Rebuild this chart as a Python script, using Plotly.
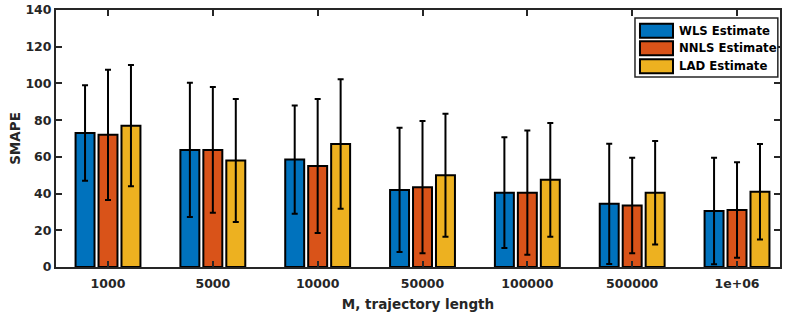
import plotly.graph_objects as go

categories = ["1000", "5000", "10000", "50000", "100000", "500000", "1e+06"]
series_names = ["WLS Estimate", "NNLS Estimate", "LAD Estimate"]
wls = [73, 63.8, 58.5, 42, 40.5, 34.4, 30.5]
wls_err = [26, 36.6, 29.5, 33.8, 30.2, 32.7, 29]
nnls = [72, 63.8, 55, 43.5, 40.5, 33.5, 31]
nnls_err = [35.5, 34.3, 36.5, 36, 33.8, 26, 26]
lad = [77, 58, 67, 50, 47.5, 40.5, 41]
lad_err = [33, 33.5, 35.3, 33.5, 31, 28.2, 26]
colors = ["#0072BD", "#D95319", "#EDB120"]
yticks = [0, 20, 40, 60, 80, 100, 120, 140]

values = [wls, nnls, lad]
errors = [wls_err, nnls_err, lad_err]
xpos = list(range(len(categories)))

FONT = "DejaVu Sans"
DARK = "#262626"

fig = go.Figure()
for name, v, e, c in zip(series_names, values, errors, colors):
    fig.add_trace(go.Bar(
        x=xpos, y=v, name=name, marker_color=c,
        marker_line=dict(color="black", width=2),
        error_y=dict(type="data", array=e, visible=True, color="black",
                     thickness=2, width=3),
        showlegend=False,
    ))

# custom legend (MATLAB-style wide swatches)
fig.add_shape(type="rect", xref="paper", yref="paper", x0=0.7997, x1=0.997,
              y0=0.739, y1=0.969, line=dict(color=DARK, width=1.5),
              fillcolor="white", layer="above")
row_y = [0.9195, 0.851, 0.781]
for name, c, ry in zip(series_names, colors, row_y):
    fig.add_shape(type="rect", xref="paper", yref="paper", x0=0.8066, x1=0.8522,
                  y0=ry - 0.027, y1=ry + 0.027, line=dict(color="black", width=2),
                  fillcolor=c, layer="above")
    fig.add_annotation(xref="paper", yref="paper", x=0.8577, y=ry, text=name,
                       showarrow=False, xanchor="left", yanchor="middle",
                       font=dict(family=FONT, size=11.7, color="black", weight="bold"))

fig.update_layout(
    width=789, height=316,
    margin=dict(l=56, r=9, t=10, b=49),
    paper_bgcolor="white", plot_bgcolor="white",
    barmode="group", bargap=0.343, bargroupgap=0.174,
    font=dict(family=FONT, size=12, color=DARK),
)
fig.update_xaxes(
    range=[-0.496, 6.41], tickmode="array", tickvals=xpos, ticktext=categories,
    ticks="inside", ticklen=6, tickwidth=1.5, tickcolor=DARK,
    showline=True, linecolor=DARK, linewidth=2, mirror="ticks",
    showgrid=False, zeroline=False, automargin=False, ticklabelstandoff=4,
    tickfont=dict(family=FONT, size=12.5, color=DARK, weight="bold"),
    title=dict(text="M, trajectory length", font=dict(family=FONT, size=13.5, color=DARK, weight="bold"), standoff=10),
)
fig.update_yaxes(
    range=[0, 140], tickmode="array", tickvals=yticks,
    ticks="inside", ticklen=6, tickwidth=1.5, tickcolor=DARK,
    showline=True, linecolor=DARK, linewidth=2, mirror="ticks",
    showgrid=False, zeroline=False, automargin=False,
    tickfont=dict(family=FONT, size=12.5, color=DARK, weight="bold"),
    title=dict(text="SMAPE", font=dict(family=FONT, size=13.5, color=DARK, weight="bold"), standoff=2),
)

fig.write_html("out.html", config={"displayModeBar": False},
               post_script="document.body.style.margin='0';document.body.style.overflow='hidden';")
